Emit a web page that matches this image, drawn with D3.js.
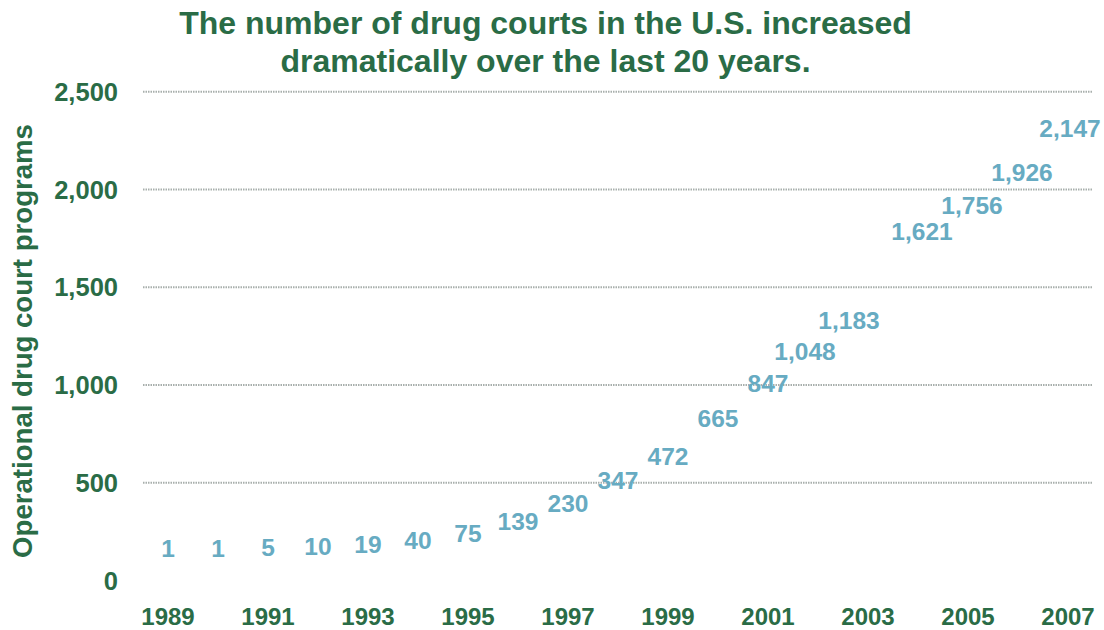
<!DOCTYPE html>
<html>
<head>
<meta charset="utf-8">
<script src="https://cdn.jsdelivr.net/npm/d3@7"></script>
<style>
  body { margin: 0; background: #fff; }
  svg text { font-family: "Liberation Sans", Arial, Helvetica, sans-serif; font-weight: bold; }
</style>
</head>
<body>
<svg id="chart" width="1104" height="630"></svg>
<script>
// Operational drug court programs in the U.S., by year
const years = [1989, 1990, 1991, 1992, 1993, 1994, 1995, 1996, 1997, 1998,
               1999, 2000, 2001, 2002, 2003, 2004, 2005, 2006, 2007];
const courts = [1, 1, 5, 10, 19, 40, 75, 139, 230, 347,
                472, 665, 847, 1048, 1183, 1621, 1756, 1926, 2147];
const yTicks = [0, 500, 1000, 1500, 2000, 2500];
const yearTicks = [1989, 1991, 1993, 1995, 1997, 1999, 2001, 2003, 2005, 2007];
const titleLines = ["The number of drug courts in the U.S. increased",
                    "dramatically over the last 20 years."];
const yTitle = "Operational drug court programs";

// a few value labels were moved by hand so they do not crowd each other
const labelNudge = { 2002: [-13, 8], 2003: [-19, 3], 2004: [4, 0], 2005: [4, 0], 2006: [4, 0], 2007: [2, 0] };

const GREEN = "#2a6c46";
const BLUE = "#67abc2";

const svg = d3.select("#chart");
const plot = { left: 143, right: 1093, top: 91.7, bottom: 580.4 };

const x = d3.scaleBand().domain(years).range([plot.left, plot.right])
  .paddingInner(0.3).paddingOuter(0.15);
const y = d3.scaleLinear().domain([0, 2500]).range([plot.bottom, plot.top]);

// title
svg.append("g").selectAll("text").data(titleLines).join("text")
  .attr("x", 545.5)
  .attr("y", (d, i) => 34.3 + i * 37.4)
  .attr("text-anchor", "middle")
  .attr("fill", GREEN)
  .attr("font-size", 32)
  .text(d => d);

// horizontal gridlines
svg.append("g").selectAll("line").data(yTicks.filter(t => t > 0)).join("line")
  .attr("x1", plot.left).attr("x2", plot.right)
  .attr("y1", d => y(d)).attr("y2", d => y(d))
  .attr("stroke", "#a8afac")
  .attr("stroke-width", 2)
  .attr("stroke-dasharray", "1.5,1");

// y axis
const yAxis = svg.append("g")
  .attr("transform", `translate(${plot.left},0)`)
  .call(d3.axisLeft(y).tickValues(yTicks).tickFormat(d3.format(",")).tickSize(0).tickPadding(25));
yAxis.select(".domain").remove();
yAxis.selectAll("text")
  .attr("fill", GREEN)
  .attr("font-size", 25.5)
  .attr("dy", "0.34em")
  .style("font-family", "'Liberation Sans', Arial, sans-serif")
  .style("font-weight", "bold");

// x axis (every other year)
const xAxis = svg.append("g")
  .attr("transform", `translate(0,${plot.bottom})`)
  .call(d3.axisBottom(x).tickValues(yearTicks).tickSize(0).tickPadding(28));
xAxis.select(".domain").remove();
xAxis.selectAll("text")
  .attr("fill", GREEN)
  .attr("font-size", 24)
  .style("font-family", "'Liberation Sans', Arial, sans-serif")
  .style("font-weight", "bold");

// y axis title
svg.append("text")
  .attr("transform", `translate(32,341) rotate(-90)`)
  .attr("text-anchor", "middle")
  .attr("fill", GREEN)
  .attr("font-size", 27.6)
  .text(yTitle);

// bars (unfilled columns)
svg.append("g").selectAll("rect").data(years).join("rect")
  .attr("x", d => x(d))
  .attr("width", x.bandwidth())
  .attr("y", (d, i) => y(courts[i]))
  .attr("height", (d, i) => y(0) - y(courts[i]))
  .attr("fill", "none");

// value labels above each column
const fmt = d3.format(",");
svg.append("g").selectAll("text").data(years).join("text")
  .attr("x", d => x(d) + x.bandwidth() / 2 + (labelNudge[d] ? labelNudge[d][0] : 0))
  .attr("y", (d, i) => y(courts[i]) - 23.3 + (labelNudge[d] ? labelNudge[d][1] : 0))
  .attr("text-anchor", "middle")
  .attr("fill", BLUE)
  .attr("font-size", 24.5)
  .text((d, i) => fmt(courts[i]));
</script>
</body>
</html>
